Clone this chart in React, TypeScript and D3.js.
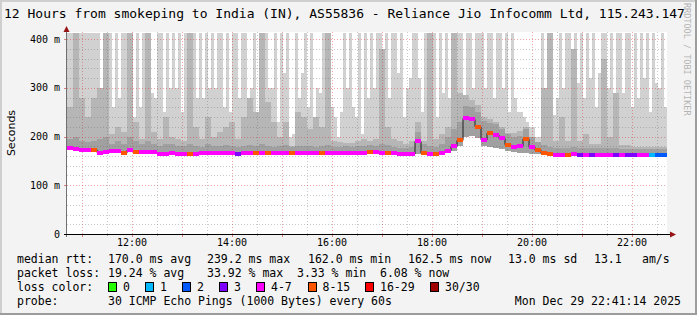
import React from 'react';
import * as d3 from 'd3';

// Time axis: 12 hours, 10:42 .. 22:42
const START_HOUR = 10.7;
const END_HOUR = 22.7;
const BIN_HOURS = 0.12; // 100 coarse bins
const FINE_BIN_HOURS = 0.06; // 200 fine bins

// median rtt (ms) per bin
const median = [
  177, 174, 173, 173, 173, 167, 168, 170, 170, 166,
  172, 168, 168, 168, 168, 165, 165, 167, 165, 165,
  165, 165, 166, 166, 166, 166, 166, 166, 165, 166,
  167, 167, 167, 166, 167, 167, 166, 167, 167, 166,
  167, 167, 167, 166, 167, 167, 167, 166, 167, 167,
  168, 168, 167, 167, 166, 164, 164, 164, 190, 166,
  164, 164, 166, 171, 180, 192, 237, 235, 220, 193,
  207, 203, 196, 183, 179, 180, 195, 178, 172, 166,
  164, 163, 163, 163, 164, 163, 163, 163, 163, 163,
  163, 163, 163, 162, 163, 163, 163, 163, 163, 162,
];

// loss colour index per bin (0:"0" 1:"1" 2:"2" 3:"3" 4:"4-7" 5:"8-15" 6:"16-29" 7:"30/30")
const lossIdx = [
  4, 4, 4, 4, 5, 4, 4, 4, 4, 5,
  4, 5, 4, 4, 4, 4, 4, 4, 4, 4,
  5, 4, 4, 4, 4, 4, 4, 4, 3, 4,
  4, 5, 4, 5, 4, 4, 4, 5, 4, 4,
  4, 4, 5, 4, 4, 4, 4, 4, 4, 4,
  5, 4, 4, 5, 4, 4, 4, 4, 4, 5,
  4, 5, 4, 4, 4, 5, 4, 4, 5, 4,
  5, 4, 4, 5, 4, 4, 5, 4, 5, 5,
  5, 4, 4, 5, 4, 3, 4, 3, 4, 4,
  4, 3, 4, 3, 3, 4, 4, 1, 2, 2,
];

// smoke: lower edge (ms)
const smokeLo = [
  173, 171, 170, 170, 170, 164, 165, 167, 167, 163,
  168, 165, 165, 165, 165, 162, 162, 164, 162, 162,
  162, 162, 163, 163, 163, 163, 163, 163, 162, 163,
  164, 164, 164, 163, 164, 164, 163, 164, 164, 163,
  164, 164, 164, 163, 164, 164, 164, 163, 164, 164,
  165, 165, 164, 164, 163, 161, 161, 161, 164, 163,
  161, 161, 163, 166, 170, 180, 200, 202, 196, 180,
  178, 176, 174, 170, 168, 167, 166, 165, 164, 163,
  161, 160, 160, 160, 161, 160, 160, 160, 160, 160,
  160, 160, 160, 159, 160, 160, 160, 160, 160, 159,
];

// smoke: top of the light layer at fine resolution (ms; 413 = off the top)
const smokeLightFine = [
  413, 413, 413, 413, 413, 413, 413, 413, 413, 413,
  413, 300, 413, 300, 413, 260, 413, 280, 413, 413,
  330, 413, 240, 413, 260, 413, 300, 413, 290, 280,
  413, 413, 250, 413, 300, 413, 300, 413, 250, 413,
  230, 260, 413, 280, 413, 280, 413, 300, 413, 300,
  413, 413, 260, 413, 250, 413, 413, 280, 413, 413,
  280, 300, 413, 250, 413, 320, 413, 300, 300, 413,
  230, 413, 330, 413, 200, 205, 413, 280, 330, 413,
  260, 413, 210, 300, 290, 413, 240, 413, 260, 240,
  200, 250, 413, 300, 413, 260, 240, 413, 205, 413,
  280, 413, 300, 413, 413, 260, 413, 280, 413, 413,
  330, 413, 240, 300, 320, 413, 413, 320, 250, 413,
  260, 300, 413, 240, 413, 290, 413, 280, 413, 320,
  413, 413, 260, 413, 413, 300, 413, 413, 413, 300,
  413, 413, 280, 413, 413, 300, 413, 250, 413, 280,
  250, 250, 240, 230, 220, 220, 200, 200, 413, 220,
  413, 250, 245, 280, 413, 300, 413, 413, 260, 413,
  310, 413, 280, 413, 320, 413, 260, 330, 413, 413,
  300, 413, 270, 413, 413, 290, 413, 413, 260, 413,
  280, 413, 320, 413, 250, 413, 310, 300, 413, 260,
];

// smoke: top of the medium layer (ms)
const smokeMid = [
  260, 413, 280, 240, 280, 300, 413, 205, 220, 210,
  413, 230, 195, 413, 210, 195, 240, 200, 195, 190,
  413, 220, 195, 240, 200, 210, 220, 230, 195, 240,
  280, 250, 413, 270, 230, 200, 230, 180, 250, 240,
  215, 240, 220, 413, 190, 188, 186, 186, 190, 195,
  190, 195, 380, 220, 195, 190, 185, 190, 230, 190,
  413, 195, 205, 220, 413, 290, 285, 275, 265, 240,
  235, 230, 220, 208, 208, 212, 220, 200, 188, 300,
  413, 190, 240, 190, 380, 190, 205, 185, 185, 360,
  200, 290, 182, 182, 178, 178, 178, 178, 178, 178,
];

// smoke: top of the dark layer (ms)
const smokeDark = [
  195, 200, 190, 188, 190, 195, 200, 185, 190, 185,
  200, 190, 185, 190, 185, 180, 185, 185, 180, 180,
  185, 180, 178, 185, 180, 180, 182, 180, 178, 180,
  182, 180, 185, 180, 178, 180, 182, 178, 180, 180,
  180, 178, 180, 182, 178, 178, 180, 178, 180, 180,
  182, 180, 185, 182, 178, 176, 176, 178, 210, 185,
  180, 178, 185, 200, 215, 230, 262, 260, 250, 232,
  228, 225, 215, 205, 200, 202, 215, 198, 188, 182,
  178, 176, 176, 176, 178, 176, 176, 176, 176, 176,
  176, 176, 175, 175, 175, 175, 175, 175, 175, 174,
];

const lossLabels = ['0', '1', '2', '3', '4-7', '8-15', '16-29', '30/30'];
const lossColors = ['#26ff00', '#00b8ff', '#0059ff', '#7e00ff', '#ff00ff', '#ff5500', '#ff0000', '#a10000'];

const yTicks = [0, 100, 200, 300, 400];
const yTickLabels = ['0', '100 m', '200 m', '300 m', '400 m'];
const xTicks = [12, 14, 16, 18, 20, 22];
const xTickLabels = ['12:00', '14:00', '16:00', '18:00', '20:00', '22:00'];

const titleText = '12 Hours from smokeping to India (IN), AS55836 - Reliance Jio Infocomm Ltd, 115.243.147';

const statRtt = ['170.0 ms avg', '239.2 ms max', '162.0 ms min', '162.5 ms now', '13.0 ms sd', '13.1', 'am/s'];
const statLoss = ['19.24 % avg', '33.92 % max', '3.33 % min', '6.08 % now'];
const probeText = '30 ICMP Echo Pings (1000 Bytes) every 60s';
const dateText = 'Mon Dec 29 22:41:14 2025';

// layout
const W = 697;
const H = 315;
const PL = 67;
const PR = 667;
const PB = 234;
const PT = 32;
const MONO = '"DejaVu Sans Mono", monospace';

export default function App() {
  const x = d3.scaleLinear().domain([START_HOUR, END_HOUR]).range([PL, PR]);
  const y = d3.scaleLinear().domain([0, 400]).range([PB, 39]);
  const yMax = y.invert(PT);
  const cy = (v: number) => y(Math.min(v, yMax));

  const bins = median.map((m, i) => ({
    t0: START_HOUR + i * BIN_HOURS,
    t1: START_HOUR + (i + 1) * BIN_HOURS,
    m,
    lo: smokeLo[i],
    h2: smokeMid[i],
    h3: smokeDark[i],
    loss: lossIdx[i],
  }));

  const fine = smokeLightFine.map((h, j) => {
    const t0 = START_HOUR + j * FINE_BIN_HOURS;
    const ci = Math.min(bins.length - 1, Math.floor(j / 2));
    return { t0, t1: t0 + FINE_BIN_HOURS, h, lo: smokeLo[ci] };
  });

  const layers: { key: 'h2' | 'h3'; color: string }[] = [
    { key: 'h2', color: '#b6b6b6' },
    { key: 'h3', color: '#a0a0a0' },
  ];

  const halfHours = d3.range(Math.ceil(START_HOUR * 2), Math.floor(END_HOUR * 2) + 1).map((k) => k / 2);
  const minorY = d3.range(20, 401, 20).filter((v) => v % 100 !== 0);
  const majorY = [100, 200, 300, 400];

  const linePts: [number, number][] = bins.map((b) => [b.t0, b.m]);
  linePts.push([END_HOUR, bins[bins.length - 1].m]);
  const medLine = d3
    .line<[number, number]>()
    .x((d) => x(d[0]))
    .y((d) => y(d[1]))
    .curve(d3.curveStepAfter)(linePts);

  const rtCols = [108, 207, 308, 408, 508, 594, 642];
  const lossCols = [108, 207, 297, 380];
  const boxX = [108, 145, 182, 219, 256, 307.5, 365, 430];

  return (
    <svg
      width={W}
      height={H}
      style={{ position: 'absolute', left: 0, top: 0, display: 'block' }}
      xmlns="http://www.w3.org/2000/svg"
    >
      <rect x={0} y={0} width={W} height={H} fill="#f3f3f3" />
      <rect x={0} y={0} width={W} height={2} fill="#cfcfcf" />
      <rect x={0} y={0} width={2} height={H} fill="#cfcfcf" />
      <rect x={W - 2} y={0} width={2} height={H} fill="#9c9c9c" />
      <rect x={0} y={H - 2} width={W} height={2} fill="#9c9c9c" />

      <rect x={PL} y={PT} width={PR - PL} height={PB - PT} fill="#ffffff" />

      {/* smoke */}
      <g shapeRendering="crispEdges">
        {fine.map((f, j) => {
          const x0 = Math.round(x(f.t0));
          const x1 = Math.round(x(f.t1));
          const top = cy(f.h);
          const bot = cy(f.lo);
          return (
            <rect key={'f' + j} x={x0} y={top} width={x1 - x0} height={Math.max(0, bot - top)} fill="#d1d1d1" />
          );
        })}
        {layers.map((L) =>
          bins.map((b, i) => {
            const x0 = Math.round(x(b.t0));
            const x1 = Math.round(x(b.t1));
            const top = cy(b[L.key]);
            const bot = cy(b.lo);
            return (
              <rect
                key={L.key + i}
                x={x0}
                y={top}
                width={x1 - x0}
                height={Math.max(0, bot - top)}
                fill={L.color}
              />
            );
          })
        )}
      </g>

      {/* grid */}
      <g shapeRendering="crispEdges">
        {halfHours.map((h) => {
          const major = Number.isInteger(h);
          const xx = Math.round(x(h)) + 0.5;
          return (
            <g key={'vx' + h}>
              <line
                x1={xx}
                x2={xx}
                y1={PT}
                y2={PB}
                stroke={major ? 'rgba(220,40,40,0.42)' : 'rgba(90,90,90,0.32)'}
                strokeDasharray="1,2"
              />
              <line x1={xx} x2={xx} y1={PB} y2={PB + (major ? 3 : 2)} stroke={major ? '#d98080' : '#a0a0a0'} />
            </g>
          );
        })}
        {minorY.map((v) => (
          <line
            key={'my' + v}
            x1={PL}
            x2={PR}
            y1={Math.round(y(v)) + 0.5}
            y2={Math.round(y(v)) + 0.5}
            stroke="rgba(90,90,90,0.32)"
            strokeDasharray="1,2"
          />
        ))}
        {majorY.map((v) => (
          <g key={'My' + v}>
            <line
              x1={PL}
              x2={PR}
              y1={Math.round(y(v)) + 0.5}
              y2={Math.round(y(v)) + 0.5}
              stroke="rgba(220,40,40,0.42)"
              strokeDasharray="1,2"
            />
            <line x1={PL - 3} x2={PL} y1={Math.round(y(v)) + 0.5} y2={Math.round(y(v)) + 0.5} stroke="#d98080" />
          </g>
        ))}
      </g>

      {/* median */}
      <path d={medLine || ''} fill="none" stroke="#202020" strokeWidth={1} />
      <g shapeRendering="crispEdges">
        {bins.map((b, i) => {
          const x0 = Math.round(x(b.t0));
          const x1 = Math.round(x(b.t1));
          return (
            <rect key={'m' + i} x={x0} y={y(b.m) - 2} width={x1 - x0} height={4} fill={lossColors[b.loss]} />
          );
        })}
      </g>

      {/* axes */}
      <g shapeRendering="crispEdges">
        <line x1={PL - 0.5} x2={PL - 0.5} y1={PT - 1} y2={PB + 3} stroke="#707070" />
        <line x1={PL - 3} x2={PR + 4} y1={PB + 0.5} y2={PB + 0.5} stroke="#000000" />
      </g>
      <path d={`M${PL - 3.5},${PT} L${PL + 2.5},${PT} L${PL - 0.5},${PT - 6} Z`} fill="#961414" />
      <path d={`M${PR + 3},${PB - 2.5} L${PR + 3},${PB + 3.5} L${PR + 9},${PB + 0.5} Z`} fill="#961414" />

      {yTicks.map((v, i) => (
        <text key={'yl' + v} x={60} y={y(v) + 3.5} textAnchor="end" fontFamily={MONO} fontSize={10} fill="#000">
          {yTickLabels[i]}
        </text>
      ))}
      <text
        transform={`translate(15,133) rotate(-90)`}
        textAnchor="middle"
        fontFamily='"DejaVu Sans", sans-serif'
        fontSize={11}
        fill="#000"
      >
        Seconds
      </text>

      {xTicks.map((h, i) => (
        <text key={'xl' + h} x={x(h)} y={246} textAnchor="middle" fontFamily={MONO} fontSize={10} fill="#000">
          {xTickLabels[i]}
        </text>
      ))}

      <text x={4} y={18} fontFamily={MONO} fontSize={13} fill="#000">
        {titleText}
      </text>

      <text transform="translate(684,3) rotate(90)" fontFamily={MONO} fontSize={8.5} fill="#b4b4b4">
        RRDTOOL / TOBI OETIKER
      </text>

      <g fontFamily={MONO} fontSize={11.5} fill="#000">
        <text x={17} y={263}>median rtt:</text>
        {statRtt.map((s, i) => (
          <text key={'r' + i} x={rtCols[i]} y={263}>
            {s}
          </text>
        ))}
        <text x={17} y={277}>packet loss:</text>
        {statLoss.map((s, i) => (
          <text key={'l' + i} x={lossCols[i]} y={277}>
            {s}
          </text>
        ))}
        <text x={17} y={291}>loss color:</text>
        {lossLabels.map((s, i) => (
          <g key={'lc' + i}>
            <rect
              x={boxX[i] + 0.5}
              y={282.5}
              width={8}
              height={9}
              fill={lossColors[i]}
              stroke="#000"
              strokeWidth={1}
              shapeRendering="crispEdges"
            />
            <text x={boxX[i] + 15} y={291}>
              {s}
            </text>
          </g>
        ))}
        <text x={17} y={305}>probe:</text>
        <text x={108} y={305}>{probeText}</text>
        <text x={681} y={305} textAnchor="end">
          {dateText}
        </text>
      </g>
    </svg>
  );
}
